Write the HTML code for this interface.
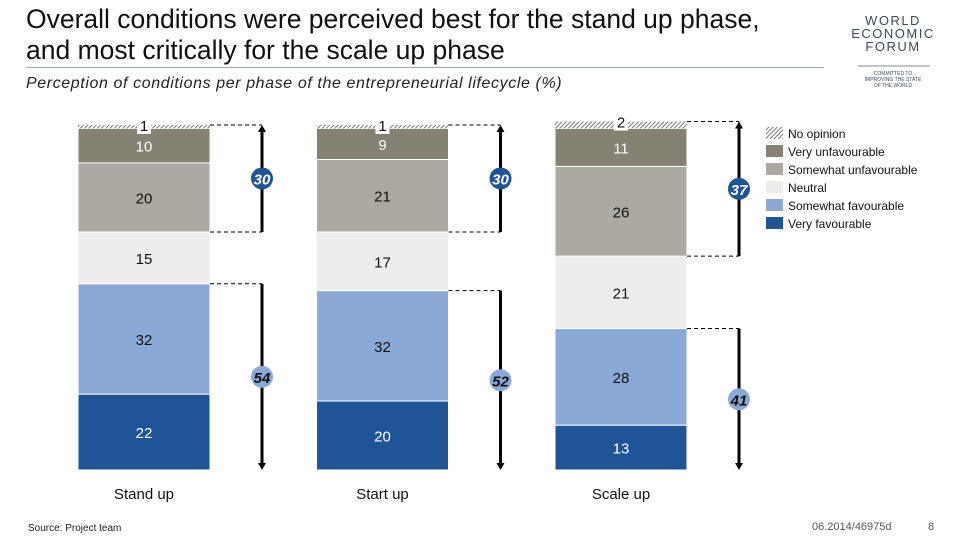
<!DOCTYPE html>
<html><head><meta charset="utf-8"><style>
body{margin:0;width:960px;height:540px;background:#fff;font-family:"Liberation Sans",sans-serif;overflow:hidden;position:relative}
.t{position:absolute;left:26px;top:4px;font-size:26.5px;line-height:31px;color:#111;white-space:nowrap}
.hr{position:absolute;left:26px;top:67px;width:798px;height:1px;background:#9aa}
.sub{position:absolute;left:26px;top:75px;font-size:16px;letter-spacing:0.6px;font-style:italic;color:#222;white-space:nowrap}
svg{position:absolute;left:0;top:0}
</style></head><body>
<div class="t">Overall conditions were perceived best for the stand up phase,<br>and most critically for the scale up phase</div>
<div class="hr"></div>
<div class="sub">Perception of conditions per phase of the entrepreneurial lifecycle (%)</div>
<svg id="c" width="960" height="540">
<defs><pattern id="h" width="3" height="3" patternUnits="userSpaceOnUse" patternTransform="rotate(45)"><rect width="1" height="3" fill="#777"/></pattern></defs>
<g font-family="Liberation Sans" fill="#3a4a5a" text-anchor="middle">
<text x="893" y="25" font-size="13" letter-spacing="1.5">WORLD</text>
<text x="893" y="38" font-size="13" letter-spacing="1.5">ECONOMIC</text>
<text x="893" y="51" font-size="13" letter-spacing="1.5">FORUM</text>
<line x1="858" y1="66" x2="930" y2="66" stroke="#888"/>
<text x="893" y="75" font-size="5">COMMITTED TO</text>
<text x="893" y="81" font-size="5">IMPROVING THE STATE</text>
<text x="893" y="87" font-size="5">OF THE WORLD</text>
</g>
<text x="28" y="531" font-size="10" fill="#222">Source: Project team</text>
<text x="812" y="530" font-size="11" fill="#555">06.2014/46975d</text>
<text x="928" y="530" font-size="11" fill="#555">8</text>
</svg>
<script>
const categories=["Stand up","Start up","Scale up"];
const noOpinion=[1,1,2];
const veryUnfav=[10,9,11];
const somewhatUnfav=[20,21,26];
const neutral=[15,17,21];
const somewhatFav=[32,32,28];
const veryFav=[22,20,13];
const unfavTotal=[30,30,37];
const favTotal=[54,52,41];
const segNames=["Very favourable","Somewhat favourable","Neutral","Somewhat unfavourable","Very unfavourable","No opinion"];
const series=[veryFav,somewhatFav,neutral,somewhatUnfav,veryUnfav,noOpinion];
const colors=["#1f5596","#8aa9d6","#eeedeb","#aba9a1","#858274","url(#h)"];
const txtCol=["#fff","#111","#111","#111","#fff","#111"];
const NS="http://www.w3.org/2000/svg";
const svg=document.getElementById('c');
const base=470,k=3.45,barW=132;
const xPos=i=>78+i*238.5;
const y=v=>base-v*k;
function el(t,a,p){const e=document.createElementNS(NS,t);for(const q in a)e.setAttribute(q,a[q]);(p||svg).appendChild(e);return e;}
categories.forEach((c,i)=>{
  const x=xPos(i);let cum=0;const bounds=[];
  const g=el('g',{});
  
  
  series.forEach((s,j)=>{
    const v=s[i];const y0=y(cum),y1=y(cum+v);
    const r=el('rect',{x:x,y:y1,width:barW,height:y0-y1,fill:colors[j],stroke:j<5?'#fff':'none','stroke-width':j<5?1:0},g);
    
    
    bounds.push([y1,y0]);
    let ty=(y0+y1)/2+6;
    if(j===5){ty=y1+6;el('rect',{x:x+barW/2-7,y:y1-2,width:14,height:11,fill:'#fff'},g);}
    const t=el('text',{x:x+barW/2,y:ty,'text-anchor':'middle','font-size':15,fill:txtCol[j]},g);
    t.textContent=v;
    
    
    cum+=v;
  });
  const ax=x+barW+52;
  const top=bounds[5][0],unfB=bounds[3][1],favT=bounds[1][0];
  el('line',{x1:x+barW,y1:top,x2:ax,y2:top,stroke:'#000','stroke-dasharray':'4,3'},g);
  el('line',{x1:x+barW,y1:favT,x2:ax,y2:favT,stroke:'#000','stroke-dasharray':'4,3'},g);
  el('line',{x1:x+barW,y1:unfB,x2:ax,y2:unfB,stroke:'#000','stroke-dasharray':'4,3'},g);
  el('line',{x1:ax,y1:unfB,x2:ax,y2:top+6,stroke:'#000','stroke-width':3},g);
  el('path',{d:`M${ax-4},${top+7} L${ax+4},${top+7} L${ax},${top} Z`,fill:'#000'},g);
  el('line',{x1:ax,y1:favT,x2:ax,y2:base-6,stroke:'#000','stroke-width':3},g);
  el('path',{d:`M${ax-4},${base-7} L${ax+4},${base-7} L${ax},${base} Z`,fill:'#000'},g);
  const uy=(top+unfB)/2, fy=(favT+base)/2;
  const b1=el('circle',{cx:ax,cy:uy,r:11,fill:'#1f5596'},g);
  
  
  const t1=el('text',{x:ax,y:uy+6,'text-anchor':'middle','font-size':15,'font-weight':'bold','font-style':'italic',fill:'#fff'},g);t1.textContent=unfavTotal[i];
  const b2=el('circle',{cx:ax,cy:fy,r:11,fill:'#8aa9d6'},g);
  
  
  const t2=el('text',{x:ax,y:fy+6,'text-anchor':'middle','font-size':15,'font-weight':'bold','font-style':'italic',fill:'#111'},g);t2.textContent=favTotal[i];
  const cl=el('text',{x:x+barW/2,y:499,'text-anchor':'middle','font-size':15,fill:'#111'},g);cl.textContent=c;
  
  
});
const lg=el('g',{});


for(let j=5;j>=0;j--){
  const ly=127+(5-j)*18;
  const e=el('g',{},lg);
  
  
  el('rect',{x:766,y:ly,width:17,height:12,fill:colors[j]},e);
  const t=el('text',{x:788,y:ly+11,'font-size':12,fill:'#111'},e);t.textContent=segNames[j];
}
</script>
</body></html>
